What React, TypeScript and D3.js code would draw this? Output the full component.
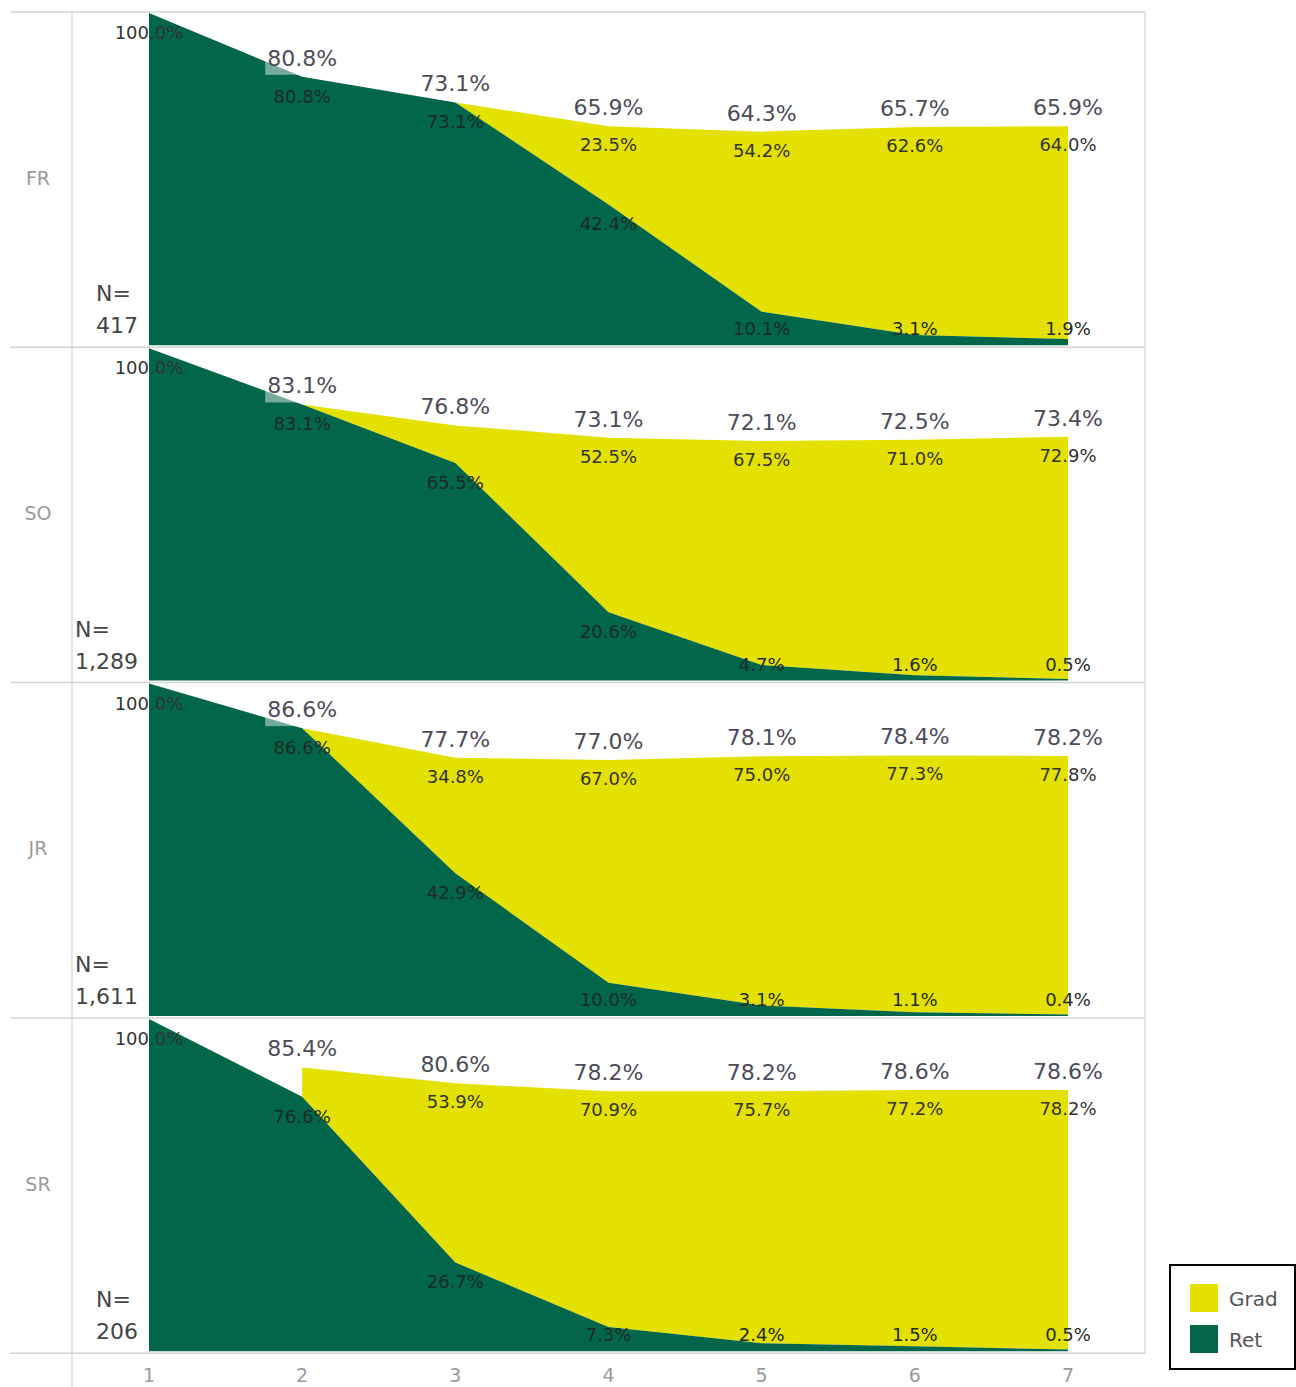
import React, { useEffect, useRef } from "react";
import * as d3 from "d3";

const years = [1, 2, 3, 4, 5, 6, 7];
const cohorts = ["FR", "SO", "JR", "SR"];
const nCounts = [417, 1289, 1611, 206];

const totalFR = [100, 80.8, 73.1, 65.9, 64.3, 65.7, 65.9];
const retFR = [100, 80.8, 73.1, 42.4, 10.1, 3.1, 1.9];
const gradFR = [null, null, null, 23.5, 54.2, 62.6, 64.0];

const totalSO = [100, 83.1, 76.8, 73.1, 72.1, 72.5, 73.4];
const retSO = [100, 83.1, 65.5, 20.6, 4.7, 1.6, 0.5];
const gradSO = [null, null, null, 52.5, 67.5, 71.0, 72.9];

const totalJR = [100, 86.6, 77.7, 77.0, 78.1, 78.4, 78.2];
const retJR = [100, 86.6, 42.9, 10.0, 3.1, 1.1, 0.4];
const gradJR = [null, null, 34.8, 67.0, 75.0, 77.3, 77.8];

const totalSR = [100, 85.4, 80.6, 78.2, 78.2, 78.6, 78.6];
const retSR = [100, 76.6, 26.7, 7.3, 2.4, 1.5, 0.5];
const gradSR = [null, null, 53.9, 70.9, 75.7, 77.2, 78.2];

// index of the year where the Grad band begins
const gradStart = [2, 1, 1, 1];

const totals = [totalFR, totalSO, totalJR, totalSR];
const rets = [retFR, retSO, retJR, retSR];
const grads = [gradFR, gradSO, gradJR, gradSR];

const legendItems = ["Grad", "Ret"];

const GREEN = "#02674a";
const YELLOW = "#e4e100";
const FONT = "'DejaVu Sans', Verdana, sans-serif";

export default function App() {
  const ref = useRef<SVGSVGElement | null>(null);

  useEffect(() => {
    const svg = d3.select(ref.current);
    svg.selectAll("*").remove();

    const W = 1296;
    const left = 10;
    const headerRight = 72;
    const right = 1145;
    const top0 = 12;
    const panelH = 335.3;

    const x = d3.scaleLinear().domain([1, 7]).range([149, 1068]);
    const fmt = (v: number) => d3.format(".1f")(v) + "%";
    const color = d3.scaleOrdinal<string, string>().domain(legendItems).range([YELLOW, GREEN]);

    // grid lines
    const grid = svg.append("g");
    for (let i = 0; i <= cohorts.length; i++) {
      const yy = top0 + i * panelH;
      grid.append("line").attr("x1", left).attr("x2", right).attr("y1", yy).attr("y2", yy)
        .attr("stroke", "#d4d4d4").attr("stroke-width", 1.5);
    }
    grid.append("line").attr("x1", headerRight).attr("x2", headerRight).attr("y1", top0).attr("y2", 1387)
      .attr("stroke", "#d4d4d4").attr("stroke-width", 1.2);
    grid.append("line").attr("x1", right).attr("x2", right).attr("y1", top0).attr("y2", top0 + 4 * panelH)
      .attr("stroke", "#d4d4d4").attr("stroke-width", 1.2);

    cohorts.forEach((c, p) => {
      const pTop = top0 + p * panelH;
      const pBottom = pTop + panelH - 2;
      const y = d3.scaleLinear().domain([0, 100]).range([pBottom, pTop + 1]);
      const g = svg.append("g");
      const tot = totals[p];
      const ret = rets[p];
      const grd = grads[p];
      const idx = years.map((_, i) => i);

      // row header
      g.append("text").attr("x", 38).attr("y", pTop + panelH / 2 + 5).attr("text-anchor", "middle")
        .attr("font-family", FONT).attr("font-size", 19).attr("fill", "#9a9a9a").text(c);

      // Grad band (between Ret and total)
      const gradIdx = idx.filter((i) => i >= gradStart[p]);
      const areaGrad = d3.area<number>()
        .x((i) => x(years[i]))
        .y0((i) => y(ret[i]))
        .y1((i) => y(tot[i]));
      g.append("path").datum(gradIdx).attr("d", areaGrad).attr("fill", color("Grad"));

      // Ret area
      const areaRet = d3.area<number>()
        .x((i) => x(years[i]))
        .y0(() => y(0))
        .y1((i) => y(ret[i]));
      g.append("path").datum(idx).attr("d", areaRet).attr("fill", color("Ret"));

      // total labels
      idx.filter((i) => i > 0).forEach((i) => {
        const t = g.append("text").attr("x", x(years[i])).attr("y", y(tot[i]) - 11)
          .attr("text-anchor", "middle").attr("font-family", FONT).attr("font-size", 22)
          .attr("fill", "#4c4c58").text(fmt(tot[i]));
        if (i === 1) {
          const bb = (t.node() as SVGTextElement).getBBox();
          g.insert("rect", () => t.node() as any)
            .attr("x", bb.x - 2).attr("y", bb.y + 3).attr("width", bb.width + 4).attr("height", bb.height + 1)
            .attr("fill", "#ffffff").attr("opacity", 0.45);
        }
      });

      // grad labels
      idx.forEach((i) => {
        const v = grd[i];
        if (v == null) return;
        g.append("text").attr("x", x(years[i])).attr("y", y(tot[i]) + 25)
          .attr("text-anchor", "middle").attr("font-family", FONT).attr("font-size", 18)
          .attr("fill", "#333").text(fmt(v));
      });

      // ret labels
      idx.forEach((i) => {
        const by = Math.min(y(ret[i]) + 26, pBottom - 10);
        g.append("text").attr("x", x(years[i])).attr("y", by)
          .attr("text-anchor", "middle").attr("font-family", FONT).attr("font-size", 18)
          .attr("fill", i === 0 ? "#333" : "#1e2a24").text(fmt(ret[i]));
      });

      // N= labels
      const numT = g.append("text").attr("x", 138).attr("y", pBottom - 12)
        .attr("text-anchor", "end").attr("font-family", FONT).attr("font-size", 22)
        .attr("fill", "#444").text(d3.format(",")(nCounts[p]));
      const w = (numT.node() as SVGTextElement).getComputedTextLength();
      g.append("text").attr("x", 138 - w).attr("y", pBottom - 44)
        .attr("font-family", FONT).attr("font-size", 22).attr("fill", "#444").text("N=");
    });

    // x axis tick labels
    const axisG = svg.append("g");
    years.forEach((yr) => {
      axisG.append("text").attr("x", x(yr)).attr("y", 1382).attr("text-anchor", "middle")
        .attr("font-family", FONT).attr("font-size", 19).attr("fill", "#9a9a9a").text(String(yr));
    });

    // legend
    const lg = svg.append("g");
    lg.append("rect").attr("x", 1170).attr("y", 1265).attr("width", W - 1170 - 1).attr("height", 104)
      .attr("fill", "#fff").attr("stroke", "#000").attr("stroke-width", 2);
    legendItems.forEach((name, i) => {
      lg.append("rect").attr("x", 1190).attr("y", 1284 + i * 41).attr("width", 28).attr("height", 28)
        .attr("fill", color(name));
      lg.append("text").attr("x", 1229).attr("y", 1306 + i * 41).attr("font-family", FONT)
        .attr("font-size", 20).attr("fill", "#555").text(name);
    });
  }, []);

  return (
    <svg
      ref={ref}
      width={1296}
      height={1387}
      style={{ position: "absolute", left: 0, top: 0, background: "#fff" }}
    />
  );
}
